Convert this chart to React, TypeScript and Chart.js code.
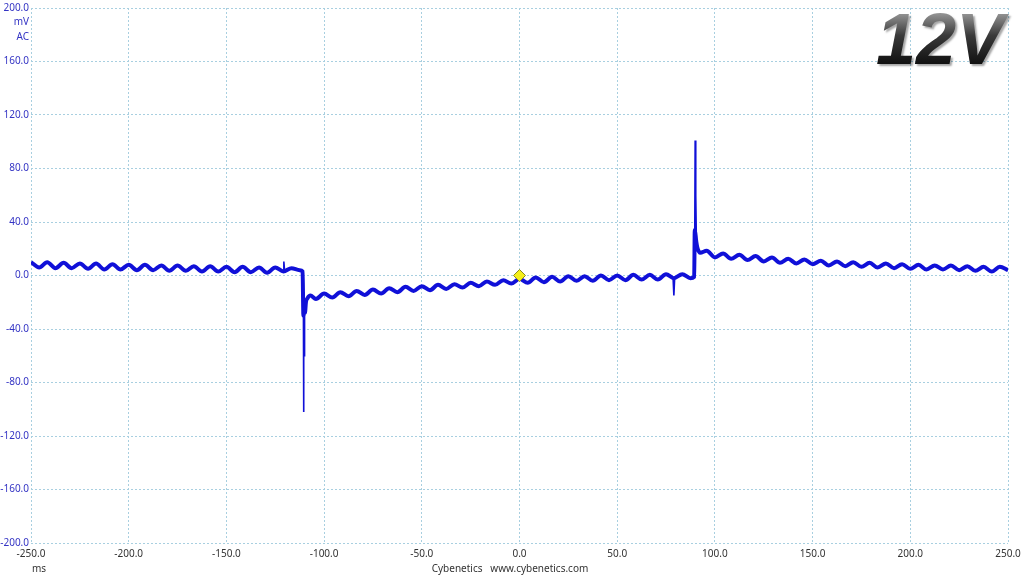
import React, { useEffect, useRef } from "react";
import { Chart, registerables } from "chart.js";

Chart.register(...registerables);

// time (ms) and AC ripple (mV) (ripple body)
const timesA = [-250, -245.8, -241.7, -237.5, -233.3, -229.2, -225, -220.8, -216.7, -212.5, -208.3, -204.2, -200, -195.8, -191.7, -187.5, -183.3, -179.2, -175, -170.8, -166.7, -162.5, -158.3, -154.2, -150, -145.8, -141.7, -137.5, -133.3, -129.2, -125, -120.8, -116.7, -112.5, -111];
const valuesA = [10, 6, 10, 5.5, 9.5, 5.5, 9, 5, 9, 4.5, 8.5, 4.5, 8, 4, 8, 4, 7.5, 3.5, 7.5, 3.5, 7, 3, 7, 3, 6.5, 2.5, 6.5, 2.5, 6, 2, 6, 3, 5.5, 4, 3];

const timesB = [-110.6, -110.2, -109.8, -109.3, -108.5, -107, -104.2, -100, -95.8, -91.7, -87.5, -83.3, -79.2, -75, -70.8, -66.7, -62.5, -58.3, -54.2, -50, -45.8, -41.7, -37.5, -33.3, -29.2, -25, -20.8, -16.7, -12.5, -8.3, -4.2, 0, 4.2, 8.3, 12.5, 16.7, 20.8, 25, 29.2, 33.3, 37.5, 41.7, 45.8, 50, 54.2, 58.3, 62.5, 66.7, 70.8, 75, 79, 83.3, 87.5, 89.4];
const valuesB = [-30, -22, -28, -20, -17, -15, -17.5, -13.5, -16.5, -12.5, -15.5, -11.5, -14.5, -10.5, -13.5, -9.5, -12.5, -8.5, -11.5, -8, -11, -7, -10, -6.5, -9, -5.5, -8, -4.5, -7, -3.5, -6, -2.5, -5.5, -1.5, -5, -1, -4.5, -0.5, -4, -0.5, -4, 0, -3.5, 0, -3.5, 0.5, -3, 0.5, -3, 1, -2, 1, -2, -1];

const timesC = [89.7, 90.1, 90.5, 91, 92.5, 95.8, 100, 104.2, 108.3, 112.5, 116.7, 120.8, 125, 129.2, 133.3, 137.5, 141.7, 145.8, 150, 154.2, 158.3, 162.5, 166.7, 170.8, 175, 179.2, 183.3, 187.5, 191.7, 195.8, 200, 204.2, 208.3, 212.5, 216.7, 220.8, 225, 229.2, 233.3, 237.5, 241.7, 245.8, 250];
const valuesC = [34, 30, 25, 21, 17, 18.5, 13.5, 16.5, 12.5, 15.5, 11.5, 14.5, 10.5, 13.5, 9.5, 12.5, 9, 12, 8.5, 11, 7.5, 10.5, 7, 10, 6.5, 9.5, 6, 9, 5.5, 8.5, 5, 8, 4.5, 7.5, 4.5, 7.5, 4, 7, 3.5, 6.5, 3, 6.5, 4];

// fast transients (thin spikes)
const spikeTimes1 = [-121, -120.6, -120.2];
const spikeValues1 = [3, 10.5, 3];
const spikeTimes2 = [-111, -110.6, -110.5, -110.35, -110.2, -110];
const spikeValues2 = [3, -20, -102, -30, -60, -22];
const spikeTimes3 = [78.6, 79, 79.4];
const spikeValues3 = [-2, -15, -2];
const spikeTimes4 = [89.4, 89.7, 89.9, 90.1, 90.3, 90.5];
const spikeValues4 = [-1, 34, 101, 33, 60, 28];

const triggerTime = [0];
const triggerLevel = [0];

const xTicks = [-250, -200, -150, -100, -50, 0, 50, 100, 150, 200, 250];
const yTicks = [-200, -160, -120, -80, -40, 0, 40, 80, 120, 160, 200];

const railLabel = "12V";
const yUnit = ["mV", "AC"];
const xUnit = "ms";
const credit = "Cybenetics   www.cybenetics.com";

const FONT = "'Noto Sans', 'Liberation Sans', sans-serif";
const TRACE = "#1010d8";

export default function App() {
  const ref = useRef<HTMLCanvasElement | null>(null);

  useEffect(() => {
    if (!ref.current) return;
    const pts = (ts: number[], vs: number[]) => ts.map((t, i) => ({ x: t, y: vs[i] }));
    const trace = [...pts(timesA, valuesA), ...pts(timesB, valuesB), ...pts(timesC, valuesC)];
    const spikes = [
      pts(spikeTimes1, spikeValues1),
      pts(spikeTimes2, spikeValues2),
      pts(spikeTimes3, spikeValues3),
      pts(spikeTimes4, spikeValues4),
    ];
    const trig = pts(triggerTime, triggerLevel);

    const overlay = {
      id: "overlay",
      afterDraw(chart: any) {
        const ctx = chart.ctx as CanvasRenderingContext2D;
        const ca = chart.chartArea;
        ctx.save();
        ctx.font = `10px ${FONT}`;
        ctx.fillStyle = "#3434c4";
        ctx.textAlign = "right";
        ctx.textBaseline = "middle";
        ctx.fillText(yUnit[0], ca.left - 2, 22);
        ctx.fillText(yUnit[1], ca.left - 2, 37);
        ctx.fillStyle = "#333";
        ctx.textAlign = "center";
        ctx.fillText(xUnit, ca.left + 8, 569);
        ctx.fillText(credit, 510, 569);
        ctx.font = `italic bold 72px 'Liberation Sans', Arial, sans-serif`;
        ctx.textAlign = "right";
        ctx.textBaseline = "alphabetic";
        const g = ctx.createLinearGradient(0, 12, 0, 64);
        g.addColorStop(0, "#9a9a9a");
        g.addColorStop(0.45, "#3a3a3a");
        g.addColorStop(1, "#111");
        ctx.shadowColor = "rgba(0,0,0,0.35)";
        ctx.shadowOffsetX = 2;
        ctx.shadowOffsetY = 2;
        ctx.shadowBlur = 2;
        ctx.fillStyle = g;
        ctx.fillText(railLabel, 1004, 64);
        ctx.restore();
      },
    };

    const spikeSets = spikes.map((d) => ({
      data: d,
      showLine: true,
      borderColor: TRACE,
      borderWidth: 1.6,
      pointRadius: 0,
      tension: 0,
    }));

    const chart = new Chart(ref.current, {
      type: "scatter",
      data: {
        datasets: [
          {
            data: trig,
            showLine: false,
            pointStyle: "rectRot",
            pointRadius: 6,
            backgroundColor: "#f5ef1a",
            borderColor: "#8a8a20",
            borderWidth: 1,
          },
          ...spikeSets,
          {
            data: trace,
            showLine: true,
            borderColor: TRACE,
            borderWidth: 4,
            pointRadius: 0,
            cubicInterpolationMode: "monotone",
            borderJoinStyle: "round",
          },
        ],
      },
      options: {
        animation: false,
        responsive: false,
        events: [],
        layout: { padding: { top: 8, right: 16, left: 0, bottom: 0 } },
        plugins: { legend: { display: false }, tooltip: { enabled: false } },
        scales: {
          x: {
            type: "linear",
            min: -250,
            max: 250,
            afterBuildTicks: (s: any) => {
              s.ticks = xTicks.map((v) => ({ value: v }));
            },
            afterFit: (s: any) => {
              s.height = 33;
              s.paddingRight = 0;
              s.paddingLeft = 0;
            },
            grid: { color: "#a8cfe0", lineWidth: 1, drawTicks: false },
            border: { display: false, dash: [2, 2] },
            ticks: {
              color: "#333",
              font: { size: 10, family: FONT },
              padding: 5,
              maxRotation: 0,
              autoSkip: false,
              callback: (v: any) => Number(v).toFixed(1),
            },
          },
          y: {
            type: "linear",
            min: -200,
            max: 200,
            afterBuildTicks: (s: any) => {
              s.ticks = yTicks.map((v) => ({ value: v }));
            },
            afterFit: (s: any) => {
              s.width = 31;
            },
            grid: { color: "#a8cfe0", lineWidth: 1, drawTicks: false },
            border: { display: false, dash: [2, 2] },
            ticks: {
              color: "#3434c4",
              font: { size: 10, family: FONT },
              padding: 2,
              autoSkip: false,
              callback: (v: any) => Number(v).toFixed(1),
            },
          },
        },
      } as any,
      plugins: [overlay],
    });
    return () => chart.destroy();
  }, []);

  return (
    <div style={{ position: "fixed", left: 0, top: 0, width: 1024, height: 576, background: "#fff" }}>
      <canvas ref={ref} width={1024} height={576} style={{ width: 1024, height: 576 }} />
    </div>
  );
}
